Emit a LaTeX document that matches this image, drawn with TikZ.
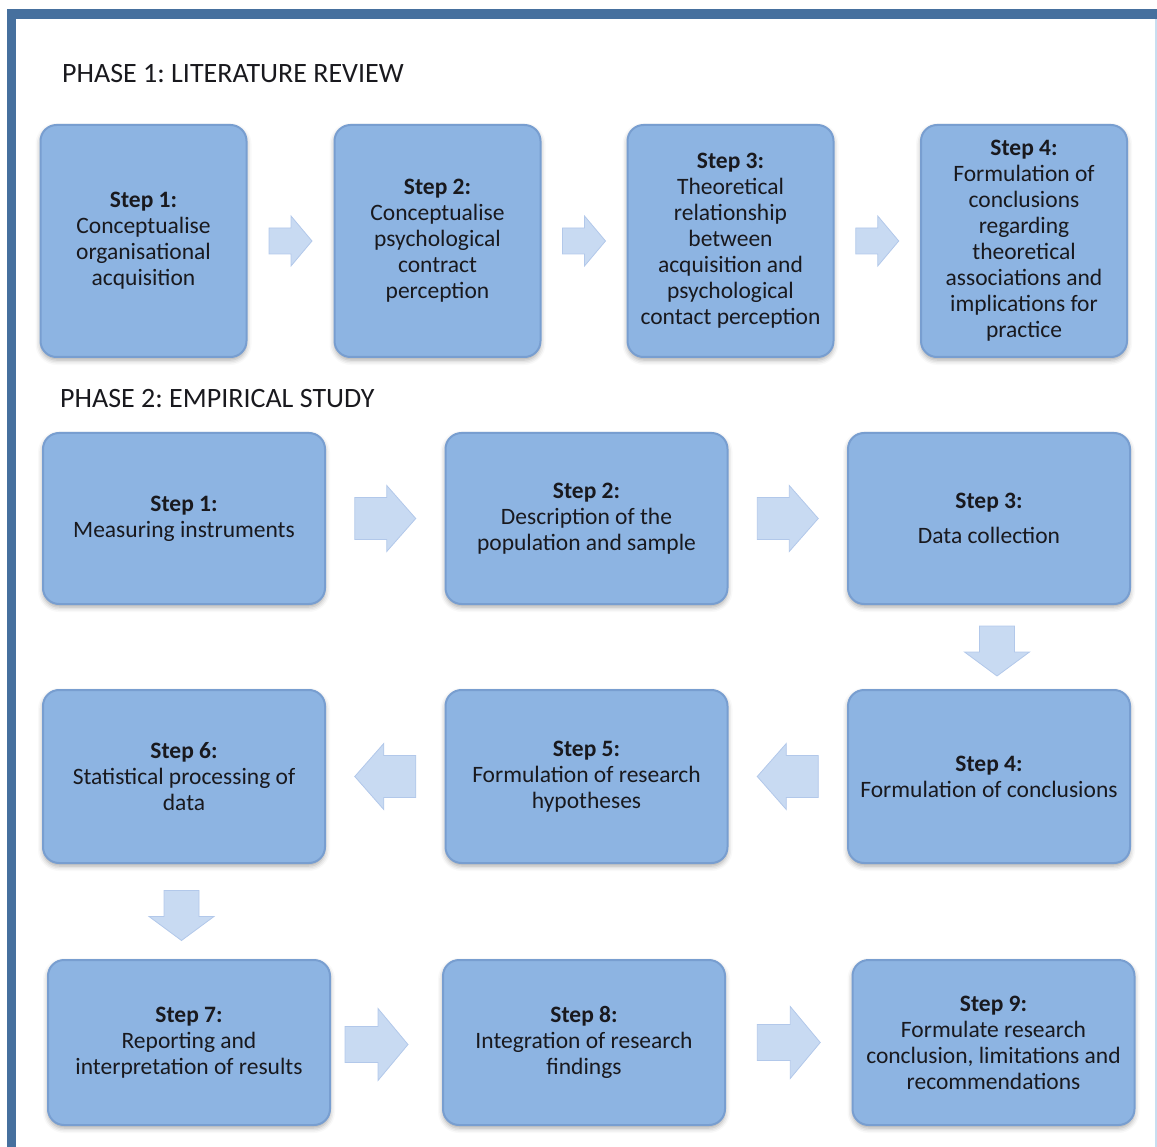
\documentclass[tikz,border=0pt]{standalone}
\usepackage{fontspec}
\setmainfont{Carlito}
\usetikzlibrary{calc,shadows.blur}
\frenchspacing
\definecolor{frameblue}{RGB}{70,112,158}
\definecolor{boxfill}{RGB}{141,180,226}
\definecolor{boxedge}{RGB}{120,158,208}
\definecolor{arrfill}{RGB}{200,218,242}
\definecolor{arredge}{RGB}{178,200,234}
\definecolor{txt}{RGB}{25,25,30}
\definecolor{rightline}{RGB}{200,222,240}
\tikzset{
  stepbox/.style={rectangle, rounded corners=16pt, fill=boxfill, draw=boxedge, line width=2pt,
    align=center, text=txt, font=\fontsize{23.5}{26}\selectfont, inner sep=0pt,
    blur shadow={shadow xshift=0pt, shadow yshift=-3pt, shadow blur radius=5pt, shadow opacity=35}},
  blockarrow/.style={fill=arrfill, draw=arredge, line width=0.8pt, line join=miter},
  phasetitle/.style={anchor=west, text=txt, font=\fontsize{28}{32}\selectfont, inner sep=0pt}
}
% #1 centre, #2 angle, #3 length, #4 head length, #5 body half width, #6 head half width
\newcommand\flowarrow[6]{%
  \path[blockarrow, shift={(#1)}, rotate=#2]
    ({-#3/2},{-#5}) -- ({#3/2-#4},{-#5}) -- ({#3/2-#4},{-#6}) -- ({#3/2},0)
    -- ({#3/2-#4},{#6}) -- ({#3/2-#4},{#5}) -- ({-#3/2},{#5}) -- cycle;}
\begin{document}
\begin{tikzpicture}[x=1pt,y=-1pt]
\useasboundingbox (0,0) rectangle (1157,1147);
% frame
\fill[frameblue] (7,9) rectangle (1157,19);
\fill[frameblue] (7,9) rectangle (16,1147);
\draw[rightline, line width=2pt] (1155.5,19) -- (1155.5,1147);

% titles
\node[phasetitle] (ph1) at (62,74) {PHASE 1: LITERATURE REVIEW};
\node[phasetitle] (ph2) at (60,399) {PHASE 2: EMPIRICAL STUDY};

% phase 1
\begin{scope}[every node/.append style={minimum width=206pt, minimum height=232pt}]
\node[stepbox] (a1) at (143.5,241) {\textbf{Step 1:}\\Conceptualise\\organisational\\acquisition};
\node[stepbox] (a2) at (437.5,241) {\textbf{Step 2:}\\Conceptualise\\psychological\\contract\\perception};
\node[stepbox] (a3) at (730.5,241) {\textbf{Step 3:}\\Theoretical\\relationship\\between\\acquisition and\\psychological\\contact perception};
\node[stepbox] (a4) at (1024,241) {\textbf{Step 4:}\\Formulation of\\conclusions\\regarding\\theoretical\\associations and\\implications for\\practice};
\end{scope}
\flowarrow{$(a1.east)!0.5!(a2.west)$}{0}{43}{21}{13}{25}
\flowarrow{$(a2.east)!0.5!(a3.west)$}{0}{43}{21}{13}{25}
\flowarrow{$(a3.east)!0.5!(a4.west)$}{0}{43}{21}{13}{25}

% phase 2
\begin{scope}[every node/.append style={minimum width=282pt}]
\node[stepbox, minimum height=171pt] (p1) at (184,518.5) {\textbf{Step 1:}\\Measuring instruments};
\node[stepbox, minimum height=171pt] (p2) at (586.5,518.5) {\textbf{Step 2:}\\Description of the\\population and sample};
\node[stepbox, minimum height=171pt] (p3) at (989,518.5) {\textbf{Step 3:}\\[9pt]Data collection};
\node[stepbox, minimum height=173pt] (p4) at (989,776.5) {\textbf{Step 4:}\\Formulation of conclusions};
\node[stepbox, minimum height=173pt] (p5) at (586.5,776.5) {\textbf{Step 5:}\\Formulation of research\\hypotheses};
\node[stepbox, minimum height=173pt] (p6) at (184,776.5) {\textbf{Step 6:}\\Statistical processing of\\data};
\node[stepbox, minimum height=165pt] (p7) at (189,1042.5) {\textbf{Step 7:}\\Reporting and\\interpretation of results};
\node[stepbox, minimum height=165pt] (p8) at (584,1042.5) {\textbf{Step 8:}\\Integration of research\\findings};
\node[stepbox, minimum height=165pt] (p9) at (993.5,1042.5) {\textbf{Step 9:}\\Formulate research\\conclusion, limitations and\\recommendations};
\end{scope}
\flowarrow{$(p1.east)!0.5!(p2.west)$}{0}{61}{29}{21}{33}
\flowarrow{$(p2.east)!0.5!(p3.west)$}{0}{61}{29}{21}{33}
\flowarrow{$(p3.south)!0.5!(p4.north)+(8,4)$}{-90}{50}{24}{17.5}{32.5}
\flowarrow{$(p4.west)!0.5!(p5.east)$}{180}{61}{29}{21}{33}
\flowarrow{$(p5.west)!0.5!(p6.east)$}{180}{61}{29}{21}{33}
\flowarrow{$(p6.south)!0.5!(p7.north)+(-5,4)$}{-90}{50}{24}{17.5}{32.5}
\flowarrow{$(p7.east)!0.5!(p8.west)+(-10,2)$}{0}{63}{30}{18}{36}
\flowarrow{$(p8.east)!0.5!(p9.west)$}{0}{63}{30}{18}{36}
\end{tikzpicture}
\end{document}
